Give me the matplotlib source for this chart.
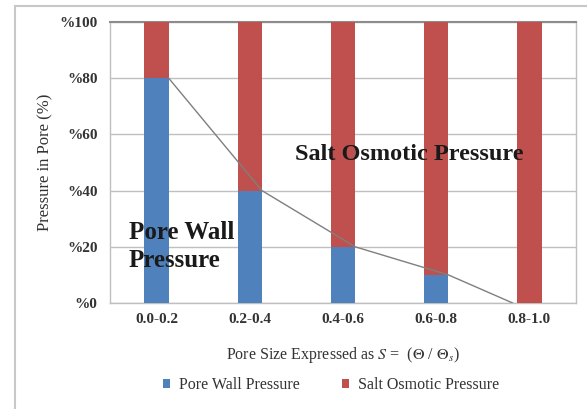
import matplotlib.pyplot as plt
import matplotlib.patches as patches
import numpy as np

# pore size classes and the share of each pressure component
categories = ['0.0-0.2', '0.2-0.4', '0.4-0.6', '0.6-0.8', '0.8-1.0']
wall_pressure = [80, 40, 20, 10, 0]
osmotic_pressure = [20, 60, 80, 90, 100]
ytick_values = [0, 20, 40, 60, 80, 100]
ytick_labels = ['%0', '%20', '%40', '%60', '%80', '%100']

BLUE = '#4f81bd'
RED = '#c0504d'
SERIF = 'Liberation Serif'

plt.rcParams['font.family'] = SERIF
plt.rcParams['mathtext.fontset'] = 'stix'

fig = plt.figure(figsize=(5.87, 4.09), dpi=100)
ax = fig.add_axes([0.1874, 0.2592, 0.7939, 0.6870])

x = np.arange(len(categories))
width = 0.26
ax.bar(x, wall_pressure, width, color=BLUE, label='Pore Wall Pressure', zorder=3)
ax.bar(x, osmotic_pressure, width, bottom=wall_pressure, color=RED,
       label='Salt Osmotic Pressure', zorder=3)

# boundary line between the two components, drawn along the bar edges
line_x = x + np.array([0.13, 0.13, 0.13, 0.13, -0.18])
ax.plot(line_x, wall_pressure, color='#7f7f7f', lw=1.0, zorder=4)

ax.set_xlim(-0.5, len(categories) - 0.5)
ax.set_ylim(0, 100)
ax.set_yticks(ytick_values)
ax.set_yticklabels(ytick_labels)
ax.set_xticks(x)
ax.set_xticklabels(categories)
ax.tick_params(axis='both', length=0, labelsize=11, colors='#333333')
ax.tick_params(axis='x', pad=7)
ax.tick_params(axis='y', pad=9)
for lab in ax.get_xticklabels() + ax.get_yticklabels():
    lab.set_fontweight('bold')

ax.yaxis.grid(True, color='#bfbfbf', lw=1.0, zorder=0)
for side in ['left', 'right', 'bottom']:
    ax.spines[side].set_color('#bfbfbf')
    ax.spines[side].set_linewidth(1.0)
ax.spines['top'].set_color('#8c8c8c')
ax.spines['top'].set_linewidth(1.5)

ax.set_ylabel('Pressure in Pore (%)', fontsize=12, color='#333333', labelpad=4)
ax.set_xlabel(r'Pore Size Expressed as $S$ =  ($\Theta$ / $\Theta_s$)',
              fontsize=11.5, color='#333333', labelpad=14)

ax.text(-0.30, 20, 'Pore Wall\nPressure', fontsize=18, fontweight='bold',
        color='#1a1a1a', va='center', ha='left', linespacing=1.3, zorder=5)
ax.text(2.71, 53, 'Salt Osmotic Pressure', fontsize=17.5, fontweight='bold',
        color='#1a1a1a', va='center', ha='center', zorder=5)

leg = fig.legend(loc='center', bbox_to_anchor=(0.564, 0.058), ncol=2,
                 frameon=False, fontsize=11.5, handlelength=0.45, handleheight=0.45,
                 handletextpad=0.6, columnspacing=2.6)
for t in leg.get_texts():
    t.set_color('#333333')

# chart area frame
fig.patches.append(patches.Rectangle((15 / 587, -0.1), 1.2, 1 - 6 / 409 + 0.1,
                                     transform=fig.transFigure, fill=False,
                                     edgecolor='#c8c8c8', lw=1.5))

fig.savefig('out.png', dpi=100)
